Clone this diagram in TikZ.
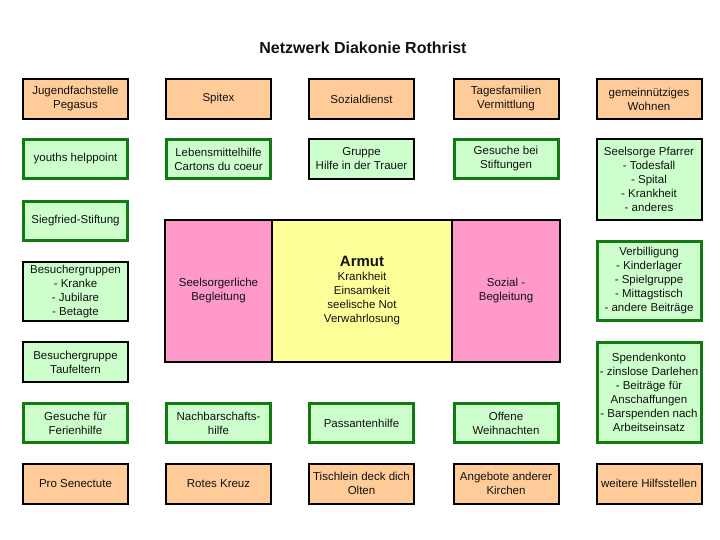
\documentclass[tikz,border=0pt]{standalone}
\usepackage{fontspec}
\setmainfont{Liberation Sans}
\definecolor{orangefill}{HTML}{FFCC99}
\definecolor{greenfill}{HTML}{CCFFCC}
\definecolor{pinkfill}{HTML}{FF99CC}
\definecolor{yellowfill}{HTML}{FFFF99}
\definecolor{darkgreen}{HTML}{117A11}
\definecolor{txt}{HTML}{111111}
\begin{document}
\begin{tikzpicture}[x=1pt,y=-1pt,
  base/.style={rectangle, align=center, inner sep=1pt, text=txt,
    font=\fontsize{11.5}{14}\selectfont, minimum width=105, minimum height=40},
  obox/.style={base, fill=orangefill, draw=black, line width=2pt},
  gbox/.style={base, fill=greenfill, draw=darkgreen, line width=3pt, minimum width=104, minimum height=39},
  kbox/.style={base, fill=greenfill, draw=black, line width=2pt},
  centerpart/.style={rectangle, align=center, text=txt, draw=black, line width=1.5pt,
    font=\fontsize{11.5}{14}\selectfont, inner sep=0pt}
]
\useasboundingbox (0,0) rectangle (720,540);
\node[font=\bfseries\fontsize{16}{18}\selectfont, text=txt] (title) at (363,48) {Netzwerk Diakonie Rothrist};

% row 1
\node[obox] (jug) at (75.5,99) {Jugendfachstelle\\Pegasus};
\node[obox] (spitex) at (218.5,99) {Spitex};
\node[obox] (sozd) at (361.5,99) {Sozialdienst};
\node[obox] (tages) at (506,99) {Tagesfamilien\\Vermittlung};
\node[obox] (wohnen) at (649,99) {gemeinnütziges\\Wohnen};

% row 2
\node[gbox] (youth) at (75.5,159) {youths helppoint};
\node[gbox] (lebens) at (218.5,159) {Lebensmittelhilfe\\Cartons du coeur};
\node[kbox] (trauer) at (361.5,159) {Gruppe\\Hilfe in der Trauer};
\node[gbox] (stift) at (506,159) {Gesuche bei\\Stiftungen};

% left column
\node[gbox] (sieg) at (75.5,221) {Siegfried-Stiftung};
\node[kbox, minimum height=59] (besuch) at (75.5,291.5) {Besuchergruppen\\- Kranke\\- Jubilare\\- Betagte};
\node[kbox] (tauf) at (75.5,362) {Besuchergruppe\\Taufeltern};

% right column
\node[kbox, minimum height=81] (pfarrer) at (649,179.5) {Seelsorge Pfarrer\\- Todesfall\\- Spital\\- Krankheit\\- anderes};
\node[gbox, minimum height=79] (verb) at (649,281) {Verbilligung\\- Kinderlager\\- Spielgruppe\\- Mittagstisch\\- andere Beiträge};
\node[gbox, minimum height=100] (spenden) at (649,392.5) {Spendenkonto\\- zinslose Darlehen\\- Beiträge für\\Anschaffungen\\- Barspenden nach\\Arbeitseinsatz};

% centre
\node[centerpart, fill=pinkfill, minimum width=107, minimum height=142] (seel) at (218.5,291) {Seelsorgerliche\\Begleitung};
\node[centerpart, fill=yellowfill, minimum width=180, minimum height=142] (armut) at (362,291) {{\bfseries\fontsize{15}{17}\selectfont Armut}\\Krankheit\\Einsamkeit\\seelische Not\\Verwahrlosung};
\node[centerpart, fill=pinkfill, minimum width=108, minimum height=142] (sozb) at (506,291) {Sozial -\\Begleitung};

% row: green
\node[gbox] (ferien) at (75.5,423) {Gesuche für\\Ferienhilfe};
\node[gbox] (nachb) at (218.5,423) {Nachbarschafts-\\hilfe};
\node[gbox] (pass) at (361.5,423) {Passantenhilfe};
\node[gbox] (weih) at (506,423) {Offene\\Weihnachten};

% bottom row
\node[obox] (pro) at (75.5,483.5) {Pro Senectute};
\node[obox] (rotes) at (218.5,483.5) {Rotes Kreuz};
\node[obox] (tisch) at (361.5,483.5) {Tischlein deck dich\\Olten};
\node[obox] (kirchen) at (506,483.5) {Angebote anderer\\Kirchen};
\node[obox] (weitere) at (649,483.5) {weitere Hilfsstellen};
\end{tikzpicture}
\end{document}
